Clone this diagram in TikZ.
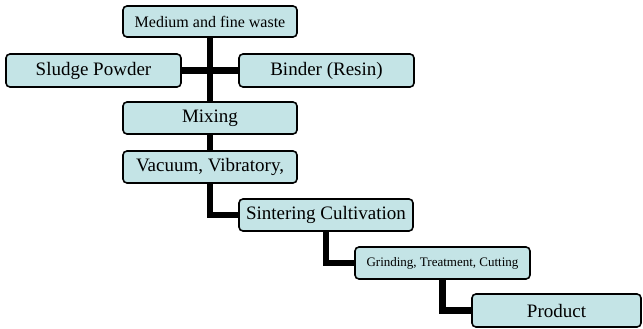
\documentclass[tikz,border=0pt]{standalone}
\usepackage{fontspec}
\setmainfont{Liberation Serif}
\usetikzlibrary{backgrounds}
\definecolor{boxfill}{RGB}{196,228,230}
\tikzset{
  box/.style={draw=black, fill=boxfill, rounded corners=4pt, line width=1.6pt,
    minimum width=174pt, minimum height=32pt, inner sep=0pt, font=\fontsize{19}{21}\selectfont},
  smallbox/.style={box, font=\fontsize{16}{18}\selectfont},
  tinybox/.style={box, font=\fontsize{13}{15}\selectfont},
  conn/.style={draw=black, line width=6.5pt}
}
\begin{document}
\begin{tikzpicture}[x=1pt,y=-1pt]
\useasboundingbox (0,0) rectangle (643,329);
\node[smallbox, minimum height=31pt] (waste) at (210,21.5) {Medium and fine waste};
\node[box, minimum width=175pt, minimum height=33pt] (sludge) at (93.5,70.5) {Sludge Powder};
\node[box, minimum width=175pt, minimum height=33pt] (binder) at (326.5,70.5) {Binder (Resin)};
\node[box] (mixing) at (210,118) {Mixing};
\node[box] (vacuum) at (210,167) {Vacuum, Vibratory,};
\node[box] (sinter) at (326,215) {Sintering Cultivation};
\node[tinybox, minimum width=175pt] (grind) at (442.5,263) {Grinding, Treatment, Cutting};
\node[box, minimum width=169pt, minimum height=33pt] (product) at (556.5,310.5) {Product};
\begin{scope}[on background layer]
\draw[conn] (waste.south) -- (mixing.north);
\draw[conn] (sludge.east) -- (binder.west);
\draw[conn] (mixing.south) -- (vacuum.north);
\draw[conn] (vacuum.south) |- (sinter.west);
\draw[conn] (sinter.south) |- (grind.west);
\draw[conn] (grind.south) |- (product.west);
\end{scope}
\end{tikzpicture}
\end{document}
